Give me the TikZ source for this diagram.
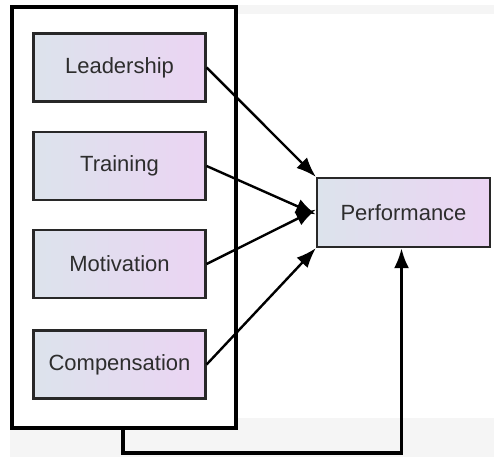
\documentclass[tikz,border=0pt]{standalone}
\usepackage{fontspec}
\setmainfont{Liberation Sans}
\usetikzlibrary{arrows.meta}
\definecolor{boxleft}{RGB}{220,227,236}
\definecolor{boxright}{RGB}{235,212,243}
\definecolor{boxline}{RGB}{40,40,40}
\definecolor{txt}{RGB}{45,45,45}
\definecolor{band}{RGB}{245,245,245}
\tikzset{
  factor/.style={draw=boxline, line width=2.2pt, left color=boxleft, right color=boxright,
    minimum width=172pt, minimum height=68pt, inner sep=0pt, text=txt,
    font=\fontsize{22}{26}\selectfont},
  link/.style={line width=2.4pt, -{Latex[length=20pt,width=15pt]}},
  frame/.style={draw=black, line width=4.5pt}
}
\begin{document}
\begin{tikzpicture}[x=1pt,y=-1pt]
  \useasboundingbox (0,0) rectangle (494,457);
  % pale bands of the page
  \fill[band] (10,418) rectangle (494,457);
  \fill[band] (238,5) rectangle (494,14);
  % enclosing frame of the factors
  \node[frame, minimum width=224pt, minimum height=421pt, inner sep=0pt, fill=white] (group) at (124,217.5) {};
  % factors
  \node[factor] (lead) at (119.5,67.5) {Leadership};
  \node[factor] (train) at (119.5,166) {Training};
  \node[factor] (motiv) at (119.5,264) {Motivation};
  \node[factor] (comp) at (119.5,364.5) {Compensation};
  % outcome
  \node[factor, minimum width=173pt, minimum height=69pt] (perf) at (403.5,212.5) {Performance};
  % paths into the outcome
  \draw[link] (lead.east) -- (perf.north west);
  \draw[link] (train.east) -- ([yshift=-2pt]perf.west);
  \draw[link] (motiv.east) -- ([yshift=3pt]perf.west);
  \draw[link] (comp.east) -- (perf.south west);
  % feedback from the whole group
  \coordinate (d1) at (123,453);
  \coordinate (d2) at (401.5,453);
  \draw[line width=3.2pt, -{Latex[length=20pt,width=15pt]}]
    (group.south -| d1) -- (d1) -- (d2) -- (d2 |- perf.south);
\end{tikzpicture}
\end{document}
